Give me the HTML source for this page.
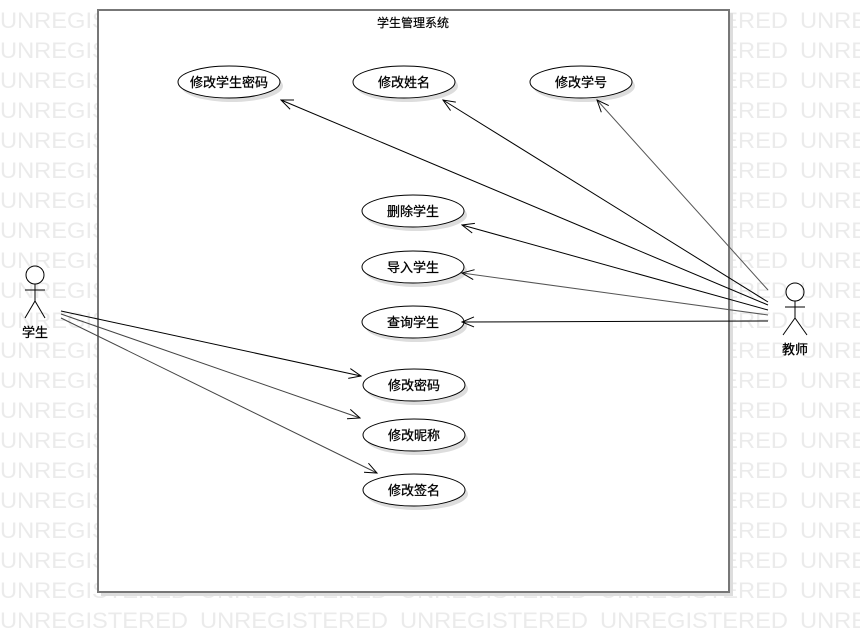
<!DOCTYPE html>
<html><head><meta charset="utf-8"><style>
html,body{margin:0;padding:0;background:#fff;width:860px;height:633px;overflow:hidden}
svg text{font-family:"Liberation Sans","Noto Sans CJK SC",sans-serif}
</style></head><body>
<svg width="860" height="633" xmlns="http://www.w3.org/2000/svg">
<defs>
<marker id="a" markerWidth="14" markerHeight="12" refX="13" refY="6" orient="auto" markerUnits="userSpaceOnUse">
<path d="M1,1 L13,6 L1,11" fill="none" stroke="#000" stroke-width="1"/></marker>
<g id="r">
<text x="0" y="0" textLength="188" lengthAdjust="spacingAndGlyphs">UNREGISTERED</text>
<text x="200" y="0" textLength="188" lengthAdjust="spacingAndGlyphs">UNREGISTERED</text>
<text x="400" y="0" textLength="188" lengthAdjust="spacingAndGlyphs">UNREGISTERED</text>
<text x="600" y="0" textLength="188" lengthAdjust="spacingAndGlyphs">UNREGISTERED</text>
<text x="800" y="0" textLength="188" lengthAdjust="spacingAndGlyphs">UNREGISTERED</text>
</g>
</defs>
<g fill="#ebebeb" font-size="22">
<use href="#r" y="28"/><use href="#r" y="58"/><use href="#r" y="88"/><use href="#r" y="118"/>
<use href="#r" y="148"/><use href="#r" y="178"/><use href="#r" y="208"/><use href="#r" y="238"/>
<use href="#r" y="268"/><use href="#r" y="298"/><use href="#r" y="328"/><use href="#r" y="358"/>
<use href="#r" y="388"/><use href="#r" y="418"/><use href="#r" y="448"/><use href="#r" y="478"/>
<use href="#r" y="508"/><use href="#r" y="538"/><use href="#r" y="568"/><use href="#r" y="598"/>
<use href="#r" y="628"/>
</g>
<rect x="101" y="13" width="632" height="583" fill="#ddd"/>
<rect x="98" y="10" width="631" height="582" fill="#fff" stroke="#777" stroke-width="2"/>
<text x="413" y="27" font-size="12" text-anchor="middle" stroke="#000" stroke-width="0.2">学生管理系统</text>
<g font-size="13" text-anchor="middle">
<g fill="#ddd">
<ellipse cx="232" cy="86" rx="51" ry="16"/><ellipse cx="407" cy="86" rx="51" ry="16"/><ellipse cx="584" cy="86" rx="51" ry="16"/>
<ellipse cx="416" cy="215" rx="51" ry="16"/><ellipse cx="416" cy="271" rx="51" ry="16"/><ellipse cx="416" cy="326" rx="51" ry="16"/>
<ellipse cx="417" cy="389" rx="51" ry="16"/><ellipse cx="417" cy="439" rx="51" ry="16"/><ellipse cx="417" cy="494" rx="51" ry="16"/>
</g>
<g fill="#fff" stroke="#000">
<ellipse cx="229" cy="82" rx="51" ry="16"/><ellipse cx="404" cy="82" rx="51" ry="16"/><ellipse cx="581" cy="82" rx="51" ry="16"/>
<ellipse cx="413" cy="211" rx="51" ry="16"/><ellipse cx="413" cy="267" rx="51" ry="16"/><ellipse cx="413" cy="322" rx="51" ry="16"/>
<ellipse cx="414" cy="385" rx="51" ry="16"/><ellipse cx="414" cy="435" rx="51" ry="16"/><ellipse cx="414" cy="490" rx="51" ry="16"/>
</g>
<g stroke="#000" stroke-width="0.3">
<text x="229" y="87">修改学生密码</text><text x="404" y="87">修改姓名</text><text x="581" y="87">修改学号</text>
<text x="413" y="216">删除学生</text><text x="413" y="272">导入学生</text><text x="413" y="327">查询学生</text>
<text x="414" y="390">修改密码</text><text x="414" y="440">修改昵称</text><text x="414" y="495">修改签名</text>
</g>
</g>
<g stroke="#000" stroke-width="1" fill="none" marker-end="url(#a)">
<line x1="768" y1="305" x2="281" y2="100"/>
<line x1="768" y1="302" x2="443" y2="100"/>
<line x1="768" y1="290" x2="597" y2="100" stroke="#555"/>
<line x1="768" y1="310" x2="462" y2="225"/>
<line x1="768" y1="315" x2="462" y2="273" stroke="#555"/>
<line x1="768" y1="321" x2="462" y2="322"/>
<line x1="61" y1="311" x2="361" y2="376"/>
<line x1="61" y1="314" x2="360" y2="418" stroke="#444"/>
<line x1="61" y1="318" x2="377" y2="473" stroke="#444"/>
</g>
<g stroke="#000" fill="none">
<circle cx="35" cy="275" r="9"/><line x1="35" y1="284" x2="35" y2="301"/><line x1="25" y1="290" x2="45" y2="290"/>
<line x1="35" y1="301" x2="25" y2="318"/><line x1="35" y1="301" x2="45" y2="318"/>
<circle cx="795" cy="292" r="9"/><line x1="795" y1="301" x2="795" y2="318"/><line x1="785" y1="307" x2="805" y2="307"/>
<line x1="795" y1="318" x2="783" y2="335"/><line x1="795" y1="318" x2="807" y2="335"/>
</g>
<text x="35" y="337" font-size="13" text-anchor="middle" stroke="#000" stroke-width="0.3">学生</text>
<text x="795" y="354" font-size="13" text-anchor="middle" stroke="#000" stroke-width="0.3">教师</text>
</svg>
</body></html>
